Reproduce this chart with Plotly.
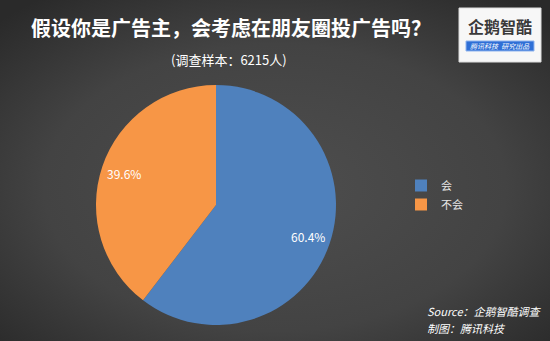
import base64, math
import plotly.graph_objects as go

# ---- data ----
categories = ["会", "不会"]
values = [60.4, 39.6]
colors = ["#4F81BD", "#F79646"]
title_text = "假设你是广告主，会考虑在朋友圈投广告吗？"
subtitle_text = "(调查样本：6215人)"
source_lines = ["Source：企鹅智酷调查", "制图：腾讯科技"]

W, H = 550, 341
FONT = "Noto Sans CJK SC, Noto Sans, sans-serif"

# background radial gradient as an inline SVG image
svg = f'''<svg xmlns="http://www.w3.org/2000/svg" width="{W}" height="{H}">
<defs><radialGradient id="g" cx="50%" cy="55%" r="70%">
<stop offset="0%" stop-color="#4e4e4e"/><stop offset="60%" stop-color="#434343"/>
<stop offset="100%" stop-color="#2a2a2a"/></radialGradient></defs>
<rect width="{W}" height="{H}" fill="url(#g)"/></svg>'''
bg_uri = "data:image/svg+xml;base64," + base64.b64encode(svg.encode()).decode()

# pie geometry (pixels)
cx, cy, r = 216, 205, 120
dom_x = [(cx - r) / W, (cx + r) / W]
dom_y = [(H - (cy + r)) / H, (H - (cy - r)) / H]

fig = go.Figure()
fig.add_trace(go.Pie(
    labels=categories, values=values, sort=False, direction="clockwise", rotation=0,
    marker=dict(colors=colors, line=dict(width=0)),
    textinfo="none", hoverinfo="label+percent",
    domain=dict(x=dom_x, y=dom_y),
))


def ann(x, y, text, size, color="#ffffff", xanchor="center", yanchor="middle"):
    return dict(x=x / W, y=1 - y / H, xref="paper", yref="paper", text=text,
                showarrow=False, xanchor=xanchor, yanchor=yanchor,
                font=dict(family=FONT, size=size, color=color))


annotations = []
# data labels near the outer edge along each slice bisector (computed from values)
total = sum(values)
cum = 0
for v in values:
    mid = (cum + v / 2) / total * 2 * math.pi
    cum += v
    px = cx + 0.81 * r * math.sin(mid)
    py = cy - 0.81 * r * math.cos(mid)
    annotations.append(ann(px, py, f"{v:.1f}%", 12))

annotations += [
    ann(231, 27, f"<b>{title_text}</b>", 20),
    ann(229, 59, subtitle_text, 13),
    ann(425, 311, f"<i>{source_lines[0]}</i>", 11, xanchor="left"),
    ann(425, 328, f"<i>{source_lines[1]}</i>", 11, xanchor="left"),
    # logo texts
    ann(500, 26, "<b>企鹅智酷</b>", 16, color="#3a3a3a"),
    ann(500, 46, "<i>腾讯科技  研究出品</i>", 7),
]

shapes = [
    dict(type="rect", xref="paper", yref="paper", x0=459 / W, x1=541 / W,
         y0=1 - 62 / H, y1=1 - 8 / H, fillcolor="#f7f7f7", line=dict(color="#dddddd", width=1)),
    dict(type="rect", xref="paper", yref="paper", x0=466 / W, x1=534 / W,
         y0=1 - 51 / H, y1=1 - 41 / H, fillcolor="#2f6fd6", line=dict(color="#8fb4ee", width=1)),
]

fig.update_layout(
    width=W, height=H, margin=dict(l=0, r=0, t=0, b=0),
    paper_bgcolor="#3d3d3d", plot_bgcolor="rgba(0,0,0,0)",
    images=[dict(source=bg_uri, xref="paper", yref="paper", x=0, y=1, sizex=1, sizey=1,
                 xanchor="left", yanchor="top", sizing="stretch", layer="below")],
    showlegend=True,
    legend=dict(x=401 / W, y=1 - 171 / H, xanchor="left", yanchor="top",
                font=dict(family=FONT, size=11, color="#e6e6e6"),
                bgcolor="rgba(0,0,0,0)", itemwidth=30, tracegroupgap=0),
    annotations=annotations, shapes=shapes,
)

fig.write_html("out.html")
